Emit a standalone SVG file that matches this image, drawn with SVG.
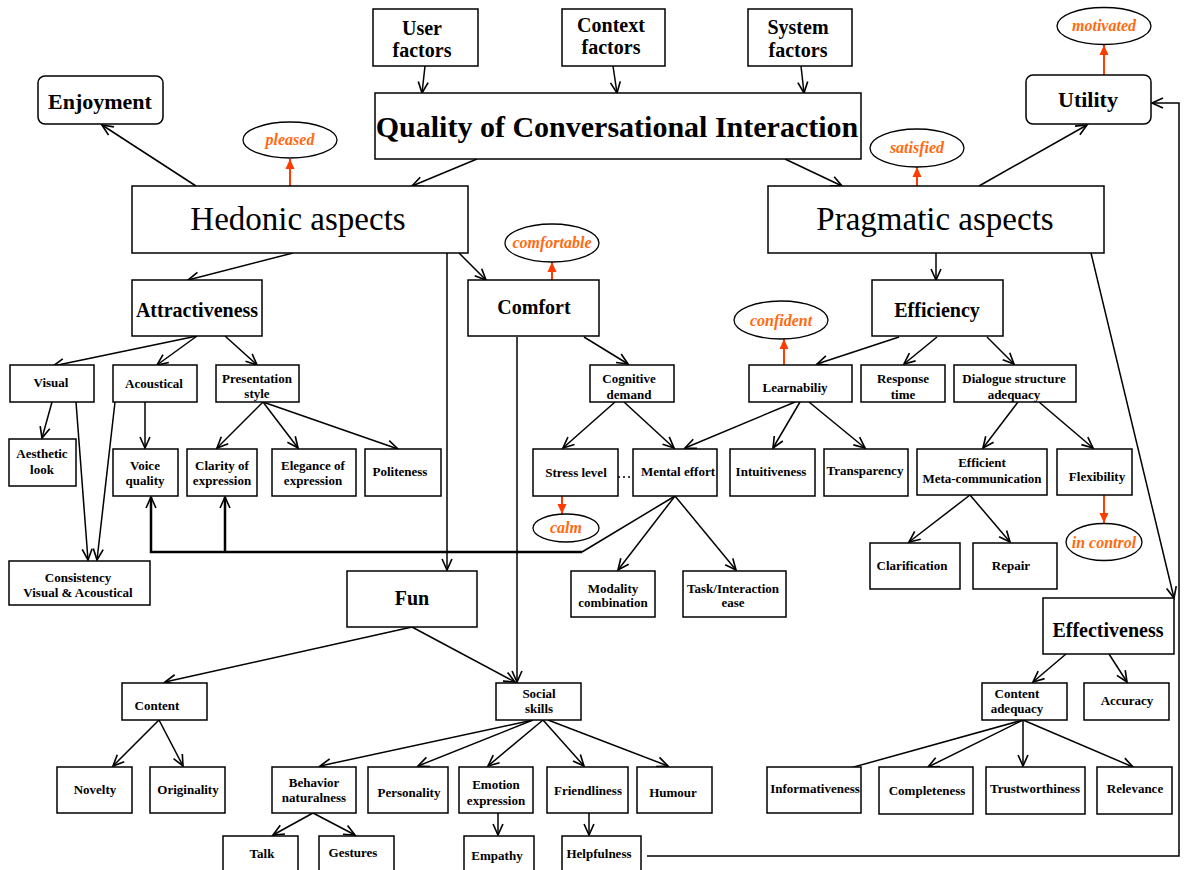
<svg xmlns="http://www.w3.org/2000/svg" width="1184" height="870" viewBox="0 0 1184 870">
<defs>
<style>
rect{fill:#fff;stroke:#000;stroke-width:1.5}
ellipse{fill:#fff;stroke:#000;stroke-width:1.3}
text{font-family:"Liberation Serif","Times New Roman",serif;font-weight:bold;text-anchor:middle;fill:#000}
.s{font-size:13px}
.m{font-size:20px}
.l{font-size:33px;font-weight:normal}
.o{font-size:16px;font-style:italic;fill:#ff6a10}
#conn line,#conn path{stroke:#000;stroke-width:1.5;fill:none}
#conn .a{marker-end:url(#ah)}
#conn .r{stroke:#ff3c00;stroke-width:2;marker-end:url(#rh)}
#conn .t{stroke-width:2.5}
#conn .d{stroke-dasharray:2 3}
</style>
<marker id="ah" viewBox="0 0 10 10" refX="10" refY="5" markerWidth="11" markerHeight="11" markerUnits="userSpaceOnUse" orient="auto" overflow="visible"><path d="M0,0.5 L10,5 L0,9.5" fill="none" stroke="#000" stroke-width="1.5"/></marker>
<marker id="rh" viewBox="0 0 10 10" refX="10" refY="5" markerWidth="10" markerHeight="10" markerUnits="userSpaceOnUse" orient="auto"><path d="M0,0.5 L10,5 L0,9.5 z" fill="#ff3c00"/></marker>
</defs>
<rect x="0" y="0" width="1184" height="870" style="stroke:none;fill:#fff"/>

<g id="conn">
<line class="a" x1="425" y1="66" x2="422" y2="93"/>
<line class="a" x1="613" y1="66" x2="617" y2="93"/>
<line class="a" x1="801" y1="66" x2="804" y2="93"/>
<line class="a" x1="477" y1="159" x2="412" y2="186"/>
<line class="a" x1="785" y1="159" x2="842" y2="186"/>
<line class="a" x1="196" y1="186" x2="102" y2="125"/>
<line class="a" x1="979" y1="186" x2="1087" y2="125"/>
<line class="a" x1="293" y1="253" x2="188" y2="280"/>
<line class="a" x1="459" y1="253" x2="486" y2="280"/>
<line class="a" x1="447" y1="253" x2="447" y2="570"/>
<line class="a" x1="936" y1="253" x2="936" y2="280"/>
<line class="a" x1="1091" y1="253" x2="1174" y2="598"/>
<line class="a" x1="197" y1="336" x2="53" y2="366"/>
<line class="a" x1="197" y1="336" x2="157" y2="365"/>
<line class="a" x1="225" y1="336" x2="257" y2="365"/>
<line class="a" x1="52" y1="402" x2="42" y2="438"/>
<line class="a" x1="76" y1="402" x2="88" y2="560"/>
<line class="a" x1="115" y1="402" x2="97" y2="560"/>
<line class="a" x1="145" y1="402" x2="145" y2="448"/>
<line class="a" x1="263" y1="402" x2="217" y2="448"/>
<line class="a" x1="263" y1="402" x2="298" y2="448"/>
<line class="a" x1="263" y1="402" x2="398" y2="449"/>
<line class="a" x1="517" y1="337" x2="517" y2="682"/>
<line class="a" x1="584" y1="337" x2="628" y2="364"/>
<line class="a" x1="615" y1="402" x2="563" y2="448"/>
<line class="a" x1="624" y1="402" x2="674" y2="448"/>
<line class="a" x1="795" y1="402" x2="685" y2="448"/>
<line class="a" x1="800" y1="402" x2="773" y2="448"/>
<line class="a" x1="809" y1="402" x2="865" y2="448"/>
<line class="a" x1="899" y1="337" x2="817" y2="364"/>
<line class="a" x1="937" y1="337" x2="904" y2="364"/>
<line class="a" x1="987" y1="337" x2="1014" y2="364"/>
<line class="a" x1="1018" y1="402" x2="983" y2="448"/>
<line class="a" x1="1039" y1="402" x2="1093" y2="448"/>
<line class="a" x1="970" y1="495" x2="909" y2="542"/>
<line class="a" x1="970" y1="495" x2="1010" y2="542"/>
<line class="a" x1="675" y1="496" x2="618" y2="570"/>
<line class="a" x1="675" y1="496" x2="736" y2="570"/>
<path d="M675,496 L582,552"/>
<path class="a t" d="M582,552 L151,552 L151,497"/>
<path class="a t" d="M225,552 L225,497"/>
<line class="d" x1="618" y1="477" x2="633" y2="477"/>
<line class="a" x1="412" y1="627" x2="165" y2="682"/>
<line class="a" x1="412" y1="627" x2="515" y2="682"/>
<line class="a" x1="159" y1="720" x2="113" y2="766"/>
<line class="a" x1="159" y1="720" x2="183" y2="766"/>
<line class="a" x1="533" y1="720" x2="320" y2="766"/>
<line class="a" x1="533" y1="720" x2="418" y2="766"/>
<line class="a" x1="543" y1="720" x2="488" y2="766"/>
<line class="a" x1="543" y1="720" x2="584" y2="766"/>
<line class="a" x1="548" y1="720" x2="668" y2="766"/>
<line class="a" x1="313" y1="813" x2="273" y2="835"/>
<line class="a" x1="313" y1="813" x2="355" y2="835"/>
<line class="a" x1="498" y1="813" x2="498" y2="835"/>
<line class="a" x1="589" y1="813" x2="589" y2="835"/>
<path class="a" d="M647,856 L1179,856 L1179,103 L1152,103"/>
<line class="a" x1="1066" y1="654" x2="1033" y2="682"/>
<line class="a" x1="1109" y1="654" x2="1127" y2="682"/>
<line class="a" x1="1023" y1="720" x2="825" y2="775"/>
<line class="a" x1="1023" y1="720" x2="928" y2="767"/>
<line class="a" x1="1023" y1="720" x2="1023" y2="766"/>
<line class="a" x1="1023" y1="720" x2="1133" y2="767"/>
<line class="r" x1="290" y1="186" x2="290" y2="159"/>
<line class="r" x1="917" y1="186" x2="917" y2="167"/>
<line class="r" x1="1104" y1="75" x2="1104" y2="45"/>
<line class="r" x1="552" y1="280" x2="552" y2="262"/>
<line class="r" x1="784" y1="365" x2="784" y2="339"/>
<line class="r" x1="562" y1="496" x2="562" y2="514"/>
<line class="r" x1="1104" y1="495" x2="1104" y2="523"/>
</g>

<g id="user"><rect x="373" y="9" width="105" height="57"/><text class="m" x="422" y="35">User</text><text class="m" x="422" y="57">factors</text></g>
<g id="context"><rect x="562" y="9" width="103" height="57"/><text class="m" x="611" y="32">Context</text><text class="m" x="611" y="54">factors</text></g>
<g id="system"><rect x="748" y="9" width="104" height="57"/><text class="m" x="798" y="34">System</text><text class="m" x="798" y="57">factors</text></g>
<g id="qci"><rect x="375" y="93" width="486" height="66"/><text x="617" y="137" style="font-size:30px">Quality of Conversational Interaction</text></g>
<g id="enjoyment"><rect x="38" y="76" width="125" height="48" rx="7"/><text x="100" y="109" style="font-size:22px">Enjoyment</text></g>
<g id="utility"><rect x="1026" y="75" width="125" height="49" rx="7"/><text x="1088" y="107" style="font-size:22px">Utility</text></g>
<g id="hedonic"><rect x="132" y="186" width="336" height="67"/><text class="l" x="298" y="230">Hedonic aspects</text></g>
<g id="pragmatic"><rect x="768" y="186" width="336" height="67"/><text class="l" x="935" y="230">Pragmatic aspects</text></g>

<g id="pleased"><ellipse cx="290" cy="140" rx="47" ry="18"/><text class="o" x="290" y="145">pleased</text></g>
<g id="satisfied"><ellipse cx="917" cy="148" rx="47" ry="19"/><text class="o" x="917" y="153">satisfied</text></g>
<g id="motivated"><ellipse cx="1104" cy="26" rx="47" ry="18.5"/><text class="o" x="1104" y="31">motivated</text></g>
<g id="comfortable"><ellipse cx="552" cy="243" rx="47" ry="19"/><text class="o" x="552" y="248">comfortable</text></g>
<g id="confident"><ellipse cx="781" cy="320" rx="47" ry="19"/><text class="o" x="781" y="326">confident</text></g>
<g id="calm"><ellipse cx="566" cy="528" rx="33" ry="14"/><text class="o" x="566" y="533">calm</text></g>
<g id="incontrol"><ellipse cx="1104" cy="542" rx="38" ry="18.5"/><text class="o" x="1104" y="548">in control</text></g>

<g id="attractiveness"><rect x="132" y="280" width="130" height="56"/><text class="m" x="197" y="317">Attractiveness</text></g>
<g id="comfort"><rect x="468" y="280" width="131" height="56"/><text class="m" x="534" y="314">Comfort</text></g>
<g id="efficiency"><rect x="872" y="280" width="131" height="56"/><text class="m" x="937" y="317">Efficiency</text></g>
<g id="fun"><rect x="347" y="571" width="130" height="56"/><text class="m" x="412" y="605">Fun</text></g>
<g id="effectiveness"><rect x="1043" y="598" width="131" height="56"/><text class="m" x="1108" y="637">Effectiveness</text></g>

<g id="visual"><rect x="10" y="365" width="84" height="37"/><text class="s" x="51" y="387">Visual</text></g>
<g id="acoustical"><rect x="113" y="365" width="84" height="37"/><text class="s" x="154" y="388">Acoustical</text></g>
<g id="presentation"><rect x="216" y="365" width="83" height="37"/><text class="s" x="257" y="383">Presentation</text><text class="s" x="257" y="398">style</text></g>
<g id="aesthetic"><rect x="9" y="439" width="67" height="47"/><text class="s" x="42" y="458">Aesthetic</text><text class="s" x="42" y="474">look</text></g>
<g id="voice"><rect x="113" y="449" width="65" height="47"/><text class="s" x="145" y="470">Voice</text><text class="s" x="145" y="485">quality</text></g>
<g id="clarity"><rect x="187" y="449" width="70" height="47"/><text class="s" x="222" y="470">Clarity of</text><text class="s" x="222" y="485">expression</text></g>
<g id="elegance"><rect x="272" y="449" width="84" height="47"/><text class="s" x="313" y="470">Elegance  of</text><text class="s" x="313" y="485">expression</text></g>
<g id="politeness"><rect x="365" y="449" width="76" height="47"/><text class="s" x="400" y="476">Politeness</text></g>
<g id="consistency"><rect x="9" y="561" width="141" height="44"/><text class="s" x="78" y="582">Consistency</text><text class="s" x="78" y="597">Visual &amp; Acoustical</text></g>
<g id="cognitive"><rect x="590" y="365" width="84" height="37"/><text class="s" x="629" y="383">Cognitive</text><text class="s" x="629" y="399">demand</text></g>
<g id="learnability"><rect x="749" y="365" width="103" height="37"/><text class="s" x="795" y="392">Learnabiliy</text></g>
<g id="response"><rect x="861" y="365" width="84" height="37"/><text class="s" x="903" y="383">Response</text><text class="s" x="903" y="399">time</text></g>
<g id="dialogue"><rect x="954" y="365" width="122" height="37"/><text class="s" x="1014" y="383">Dialogue structure</text><text class="s" x="1014" y="399">adequacy</text></g>
<g id="stress"><rect x="533" y="449" width="85" height="47"/><text class="s" x="576" y="477">Stress level</text></g>
<g id="mental"><rect x="633" y="449" width="84" height="47"/><text class="s" x="678" y="476">Mental effort</text></g>
<g id="intuitiveness"><rect x="730" y="449" width="85" height="47"/><text class="s" x="771" y="476">Intuitiveness</text></g>
<g id="transparency"><rect x="824" y="449" width="84" height="47"/><text class="s" x="865" y="475">Transparency</text></g>
<g id="meta"><rect x="917" y="449" width="130" height="46"/><text class="s" x="982" y="467">Efficient</text><text class="s" x="982" y="483">Meta-communication</text></g>
<g id="flexibility"><rect x="1057" y="449" width="75" height="46"/><text class="s" x="1097" y="481">Flexibility</text></g>
<g id="clarification"><rect x="870" y="543" width="90" height="46"/><text class="s" x="912" y="570">Clarification</text></g>
<g id="repair"><rect x="973" y="543" width="84" height="46"/><text class="s" x="1011" y="570">Repair</text></g>
<g id="modality"><rect x="571" y="571" width="84" height="46"/><text class="s" x="613" y="593">Modality</text><text class="s" x="613" y="607">combination</text></g>
<g id="task"><rect x="683" y="571" width="103" height="46"/><text class="s" x="733" y="593">Task/Interaction</text><text class="s" x="733" y="607">ease</text></g>
<g id="content"><rect x="122" y="683" width="85" height="37"/><text class="s" x="157" y="710">Content</text></g>
<g id="social"><rect x="496" y="683" width="85" height="37"/><text class="s" x="539" y="698">Social</text><text class="s" x="539" y="713">skills</text></g>
<g id="contentadequacy"><rect x="982" y="683" width="85" height="37"/><text class="s" x="1017" y="698">Content</text><text class="s" x="1017" y="713">adequacy</text></g>
<g id="accuracy"><rect x="1084" y="683" width="85" height="37"/><text class="s" x="1127" y="705">Accuracy</text></g>
<g id="novelty"><rect x="57" y="767" width="75" height="46"/><text class="s" x="95" y="794">Novelty</text></g>
<g id="originality"><rect x="150" y="767" width="75" height="46"/><text class="s" x="188" y="794">Originality</text></g>
<g id="behavior"><rect x="272" y="767" width="84" height="46"/><text class="s" x="314" y="787">Behavior</text><text class="s" x="314" y="802">naturalness</text></g>
<g id="personality"><rect x="368" y="767" width="80" height="46"/><text class="s" x="409" y="797">Personality</text></g>
<g id="emotion"><rect x="459" y="767" width="74" height="46"/><text class="s" x="496" y="789">Emotion</text><text class="s" x="496" y="805">expression</text></g>
<g id="friendliness"><rect x="547" y="767" width="81" height="46"/><text class="s" x="588" y="795">Friendliness</text></g>
<g id="humour"><rect x="637" y="767" width="75" height="46"/><text class="s" x="673" y="797">Humour</text></g>
<g id="informativeness"><rect x="767" y="767" width="94" height="46"/><text class="s" x="815" y="793">Informativeness</text></g>
<g id="completeness"><rect x="879" y="767" width="94" height="47"/><text class="s" x="927" y="795">Completeness</text></g>
<g id="trustworthiness"><rect x="986" y="767" width="99" height="47"/><text class="s" x="1035" y="793">Trustworthiness</text></g>
<g id="relevance"><rect x="1097" y="767" width="75" height="47"/><text class="s" x="1135" y="793">Relevance</text></g>
<g id="talk"><rect x="223" y="836" width="75" height="50"/><text class="s" x="262" y="858">Talk</text></g>
<g id="gestures"><rect x="319" y="836" width="75" height="50"/><text class="s" x="353" y="857">Gestures</text></g>
<g id="empathy"><rect x="464" y="836" width="70" height="50"/><text class="s" x="497" y="860">Empathy</text></g>
<g id="helpfulness"><rect x="562" y="836" width="79" height="50"/><text class="s" x="599" y="858">Helpfulness</text></g>
</svg>
